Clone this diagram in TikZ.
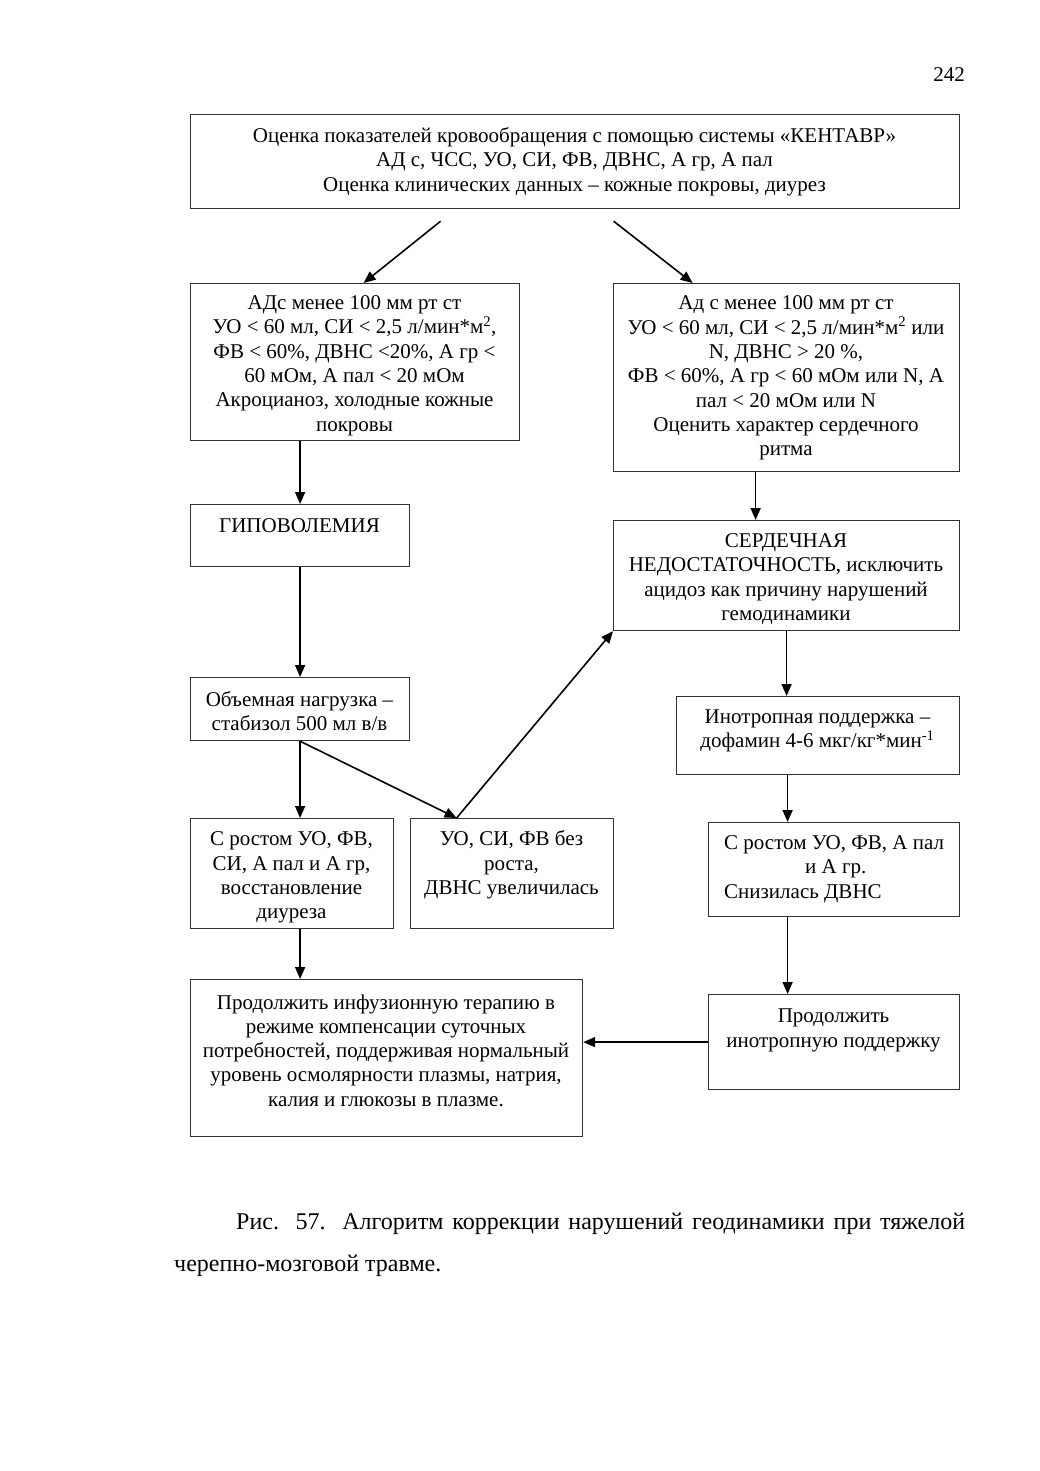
\documentclass[tikz,border=0pt]{standalone}
\usepackage{fontspec}
\setmainfont{Liberation Serif}
\usetikzlibrary{arrows.meta,calc}
\begin{document}
\begin{tikzpicture}[x=1pt,y=-1pt,
 box/.style={draw=black!80, line width=1.2pt, inner sep=0pt, anchor=north west},
 txt/.style={font=\fontsize{21}{24.3}\selectfont, align=center, inner sep=0pt, yshift=-3pt},
 arr/.style={line width=1.6pt, -{Triangle[length=12pt,width=10pt]}}]
\fill[white] (0,0) rectangle (1039,1471);
\useasboundingbox (0,0) rectangle (1039,1471);

\node[font=\fontsize{21}{24}\selectfont, anchor=base, inner sep=0pt] (pg) at (949,82) {242};

% boxes
\node[box, minimum width=769pt, minimum height=94pt] (top) at (190,114) {};
\node[box, minimum width=329pt, minimum height=157pt] (A) at (190,283) {};
\node[box, minimum width=346pt, minimum height=188pt] (B) at (613,283) {};
\node[box, minimum width=219pt, minimum height=62pt] (hypo) at (190,504) {};
\node[box, minimum width=346pt, minimum height=110pt] (heart) at (613,520) {};
\node[box, minimum width=219pt, minimum height=63pt] (vol) at (190,677) {};
\node[box, minimum width=283pt, minimum height=78pt] (ino) at (676,696) {};
\node[box, minimum width=203pt, minimum height=110pt] (L3) at (190,818) {};
\node[box, minimum width=203pt, minimum height=110pt] (M3) at (410,818) {};
\node[box, minimum width=251pt, minimum height=94pt] (R3) at (708,822) {};
\node[box, minimum width=392pt, minimum height=157pt] (cont1) at (190,979) {};
\node[box, minimum width=251pt, minimum height=95pt] (cont2) at (708,994) {};

% texts
\node[txt] (top-t) at (574.5,158.5) {Оценка показателей кровообращения с помощью системы «КЕНТАВР»\\АД с, ЧСС, УО, СИ, ФВ, ДВНС, А гр, А пал\\Оценка клинических данных – кожные покровы, диурез};
\node[txt] (A-t) at (354.5,362.5) {АДс менее 100 мм рт ст\\УО < 60 мл, СИ < 2,5 л/мин*м\textsuperscript{2},\\ФВ < 60\%, ДВНС <20\%, А гр <\\60 мОм, А пал < 20 мОм\\Акроцианоз, холодные кожные\\покровы};
\node[txt] (B-t) at (786,375) {Ад с менее 100 мм рт ст\\УО < 60 мл, СИ < 2,5 л/мин*м\textsuperscript{2} или\\N, ДВНС > 20 \%,\\ФВ < 60\%, А гр < 60 мОм или N, А\\пал < 20 мОм или N\\Оценить характер сердечного\\ритма};
\node[txt] (hypo-t) at (299.5,523) {ГИПОВОЛЕМИЯ};
\node[txt] (heart-t) at (786,576) {СЕРДЕЧНАЯ\\НЕДОСТАТОЧНОСТЬ, исключить\\ацидоз как причину нарушений\\гемодинамики};
\node[txt] (vol-t) at (299.5,708) {Объемная нагрузка –\\стабизол 500 мл в/в};
\node[txt] (ino-t) at (817.5,728) {Инотропная поддержка –\\дофамин 4-6 мкг/кг*мин\textsuperscript{-1}};
\node[txt] (L3-t) at (291.5,874.5) {С ростом УО, ФВ,\\СИ, А пал и А гр,\\восстановление\\диуреза};
\node[txt] (M3-t) at (511.5,862) {УО, СИ, ФВ без\\роста,\\ДВНС увеличилась};
\node[txt, align=left, anchor=west] (R3-t) at (724,866) {С ростом УО, ФВ, А пал\\\hspace*{81pt}и А гр.\\Снизилась ДВНС};
\node[txt] (cont1-t) at (386,1047.5) {Продолжить инфузионную терапию в\\режиме компенсации суточных\\потребностей, поддерживая нормальный\\уровень осмолярности плазмы, натрия,\\калия и глюкозы в плазме.};
\node[txt] (cont2-t) at (833.5,1027.5) {Продолжить\\инотропную поддержку};

% arrows
\coordinate (s1) at ([xshift=-134.5pt,yshift=-12pt]top.south);
\coordinate (s2) at ([xshift=38.5pt,yshift=-12pt]top.south);
\draw[arr] (s1) -- ([xshift=8.5pt]A.north);
\draw[arr] (s2) -- ([xshift=-94pt]B.north);
\draw[arr] ([xshift=-55pt]A.south) -- (hypo.north);
\draw[arr] ([xshift=-31pt]B.south) -- ([xshift=-31pt]heart.north);
\draw[arr] (hypo.south) -- (vol.north);
\draw[arr] (heart.south) -- (heart.south |- ino.north);
\draw[arr] (vol.south) -- (vol.south |- L3.north);
\draw[arr] (vol.south) -- ([xshift=-55.5pt]M3.north);
\draw[arr] ([xshift=-55.5pt]M3.north) -- (heart.south west);
\draw[arr] ([xshift=-30.5pt]ino.south) -- ([xshift=-30.5pt]ino.south |- R3.north);
\draw[arr] (L3.south -| vol.south) -- (vol.south |- cont1.north);
\draw[arr] ([xshift=-46.5pt]R3.south) -- ([xshift=-46.5pt]cont2.north);
\draw[arr] (cont2.west) -- (cont2.west -| cont1.east);

% caption
\node[font=\fontsize{24}{42}\selectfont, anchor=base west, inner sep=0pt] (cap1) at (236,1229) {\makebox[729pt][s]{Рис. 57. Алгоритм коррекции нарушений геодинамики при тяжелой}};
\node[font=\fontsize{24}{42}\selectfont, anchor=base west, inner sep=0pt] (cap2) at (174,1271) {черепно-мозговой травме.};
\end{tikzpicture}
\end{document}
